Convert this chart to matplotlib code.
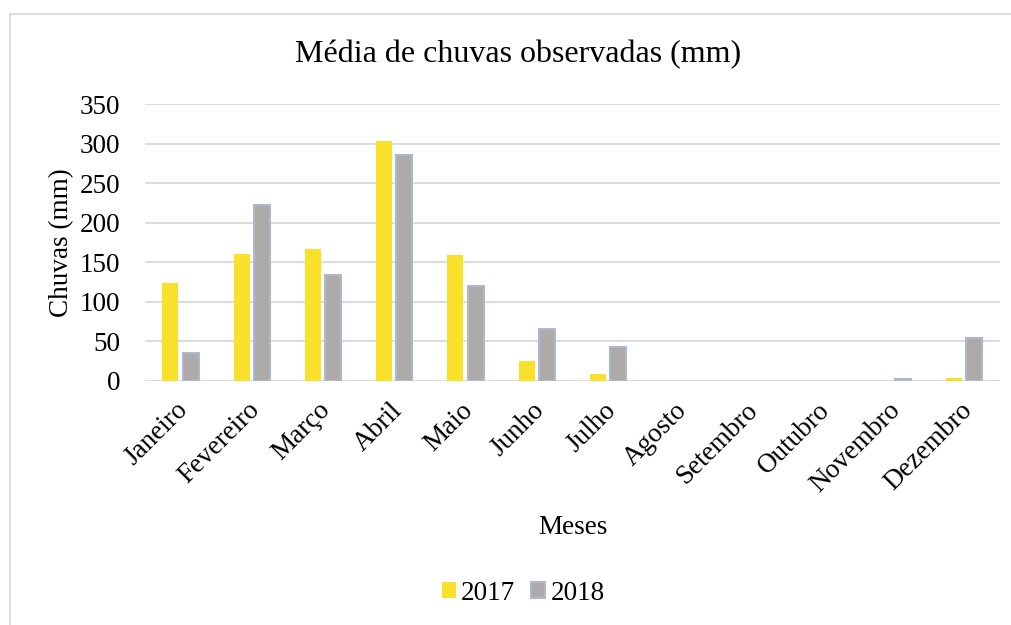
import numpy as np
import matplotlib.pyplot as plt
from matplotlib.lines import Line2D
from matplotlib.transforms import ScaledTranslation

plt.rcParams['font.family'] = ['Liberation Serif', 'DejaVu Serif']

# --- Data ---
meses = ["Janeiro", "Fevereiro", "Março", "Abril", "Maio", "Junho", "Julho",
         "Agosto", "Setembro", "Outubro", "Novembro", "Dezembro"]
chuva_2017 = [124, 160, 167, 303, 159, 25, 8.5, 0, 0, 0, 0, 4]
chuva_2018 = [35, 222, 134, 286, 120, 66, 43, 0, 0, 0, 2.5, 54]
y_ticks = [0, 50, 100, 150, 200, 250, 300, 350]

# --- Figure ---
W, H = 1012, 625
fig = plt.figure(figsize=(W / 100, H / 100), dpi=100)
ax = fig.add_axes([145 / W, 1 - 381 / H, 855 / W, 277 / H])

x = np.arange(len(meses))
w = 0.225
ax.bar(x - 0.145, chuva_2017, width=w, color="#F9E02B", label="2017", zorder=3)
lw18 = [1.5 if v > 0 else 0 for v in chuva_2018]
ax.bar(x + 0.14, chuva_2018, width=w, color="#AEAAAA", edgecolor="#ADB9CA",
       linewidth=lw18, label="2018", zorder=3)

ax.set_xlim(-0.5, len(meses) - 0.5)
ax.set_ylim(0, 350)
ax.set_yticks(y_ticks)
ax.set_xticks(x)
ax.set_xticklabels(meses, rotation=45, ha="right", rotation_mode="anchor")
ax.tick_params(axis="both", length=0, labelsize=19.5, colors="black")
ax.tick_params(axis="y", pad=18)
ax.tick_params(axis="x", pad=12)
shift = ScaledTranslation(-5 / 100, 0, fig.dpi_scale_trans)
for lbl in ax.get_xticklabels():
    lbl.set_transform(lbl.get_transform() + shift)

ax.grid(axis="y", color="#D9D9D9", linewidth=1.3, zorder=0)
for s in ax.spines.values():
    s.set_visible(False)

fig.text(518 / W, 1 - 55 / H, "Média de chuvas observadas (mm)", fontsize=23,
         ha="center", va="center")
ax.set_ylabel("Chuvas (mm)", fontsize=19.5, labelpad=4)
ax.set_xlabel("Meses", fontsize=19.5, labelpad=13)

fig.legend(loc="center", bbox_to_anchor=(0.517, 1 - 593 / H), ncol=2, frameon=False,
           fontsize=19.5, handlelength=0.5, handleheight=0.5, handletextpad=0.2,
           columnspacing=0.6)

# outer chart border (top and left edges visible)
fig.add_artist(Line2D([10 / W, 10 / W, 1.0], [0.0, 1 - 14 / H, 1 - 14 / H],
                      transform=fig.transFigure, color="#D9D9D9", linewidth=1.3))

fig.savefig("out.png", dpi=100)
